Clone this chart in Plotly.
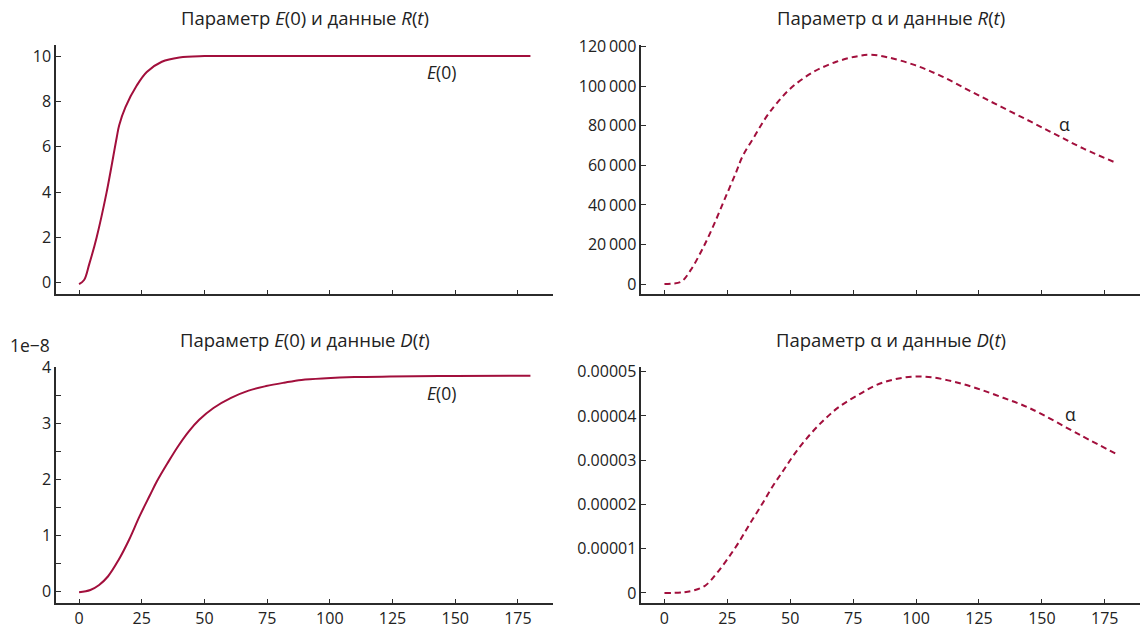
import plotly.graph_objects as go

# ---------------- data ----------------
t_e0_r = [0, 2, 4, 7, 11, 15, 16, 18.5, 23, 27, 33, 40, 50, 70, 100, 140, 180]
e0_r = [-0.06, 0.12, 0.8, 2.0, 4.0, 6.4, 6.95, 7.75, 8.7, 9.3, 9.75, 9.94, 10.0, 10.0, 10.0, 10.0, 10.0]

t_alpha_r = [0, 3, 6.7, 10.4, 14.9, 19.3, 23.8, 28.3, 31.2, 35.7, 40.1, 44.6, 50.5, 59.4, 68.3,
             75.8, 81.7, 89, 99.6, 110, 122, 133.7, 145.6, 156, 166.4, 180]
alpha_r = [0, 200, 1200, 7000, 17200, 29000, 42500, 56000, 65000, 74500, 83800, 91400, 99400,
           107400, 112400, 115000, 116000, 114600, 110700, 105200, 97300, 89700, 82100, 75300,
           68600, 61000]

t_e0_d = [0, 4.5, 8, 11.5, 15.7, 19.9, 24.1, 28.3, 31.1, 35.3, 39.5, 43.7, 47.9, 53.6, 60.6,
          67.6, 74.6, 81.7, 88.7, 98.6, 109.8, 123.9, 150, 180]
e0_d = [-0.01, 0.03, 0.12, 0.27, 0.56, 0.92, 1.34, 1.72, 1.97, 2.29, 2.59, 2.85, 3.06, 3.27,
        3.45, 3.58, 3.66, 3.72, 3.77, 3.80, 3.82, 3.83, 3.84, 3.845]

t_alpha_d = [0, 7.5, 11.9, 16.3, 20.7, 25.2, 29.6, 34, 38.5, 42.9, 47.4, 51.8, 57.7, 63.6, 69.5,
             76.9, 84.3, 91.7, 99.1, 106.5, 115.4, 124.3, 134.6, 145, 165.8, 180]
alpha_d = [0, 0.15e-6, 0.6e-6, 1.7e-6, 4.4e-6, 7.8e-6, 11.5e-6, 15.7e-6, 19.8e-6, 24e-6, 27.8e-6,
           31.5e-6, 35.7e-6, 39.2e-6, 42.1e-6, 44.7e-6, 47e-6, 48.3e-6, 48.9e-6, 48.7e-6, 47.7e-6,
           46.2e-6, 44.1e-6, 41.8e-6, 35.5e-6, 31.3e-6]

x_ticks = [0, 25, 50, 75, 100, 125, 150, 175]
x_tick_text = ["0", "25", "50", "75", "100", "125", "150", "175"]

y_ticks_e0_r = [0, 2, 4, 6, 8, 10]
y_ticks_alpha_r = [0, 20000, 40000, 60000, 80000, 100000, 120000]
y_text_alpha_r = ["0", "20\u2009000", "40\u2009000", "60\u2009000", "80\u2009000",
                  "100\u2009000", "120\u2009000"]
y_ticks_e0_d = [0, 0.5, 1, 1.5, 2, 2.5, 3, 3.5, 4]
y_text_e0_d = ["0", "", "1", "", "2", "", "3", "", "4"]
y_ticks_alpha_d = [0, 1e-5, 2e-5, 3e-5, 4e-5, 5e-5]
y_text_alpha_d = ["0", "0.00001", "0.00002", "0.00003", "0.00004", "0.00005"]

titles = ["Параметр <i>E</i>(0) и данные <i>R</i>(<i>t</i>)",
          "Параметр α и данные <i>R</i>(<i>t</i>)",
          "Параметр <i>E</i>(0) и данные <i>D</i>(<i>t</i>)",
          "Параметр α и данные <i>D</i>(<i>t</i>)"]

# ---------------- styling ----------------
W, H = 1146, 631
LINE = "#a20f3c"
AX = "#2b2b2b"
TXT = "#222222"
FONT = "Open Sans"
FS = 16
FS_TITLE = 18.5
FS_LABEL = 17.5

def px_x(p):
    return p / W

def px_y(p):
    return 1 - p / H

dom_x_left = [px_x(56), px_x(553)]
dom_x_right = [px_x(641.3), px_x(1140)]
dom_y_top = [px_y(294.3), px_y(45)]
dom_y_bot = [px_y(603.3), px_y(367)]

fig = go.Figure()
fig.add_trace(go.Scatter(x=t_e0_r, y=e0_r, mode="lines", line=dict(color=LINE, width=2, shape="spline"),
                         xaxis="x", yaxis="y", showlegend=False))
fig.add_trace(go.Scatter(x=t_alpha_r, y=alpha_r, mode="lines",
                         line=dict(color=LINE, width=2, shape="spline", dash="6px,4px"),
                         xaxis="x2", yaxis="y2", showlegend=False))
fig.add_trace(go.Scatter(x=t_e0_d, y=e0_d, mode="lines", line=dict(color=LINE, width=2, shape="spline"),
                         xaxis="x3", yaxis="y3", showlegend=False))
fig.add_trace(go.Scatter(x=t_alpha_d, y=alpha_d, mode="lines",
                         line=dict(color=LINE, width=2, shape="spline", dash="6px,4px"),
                         xaxis="x4", yaxis="y4", showlegend=False))

def xaxis(domain, anchor, labels):
    return dict(domain=domain, anchor=anchor, range=[-9.2, 189], showline=True, linecolor=AX,
                linewidth=1.5, ticks="inside", ticklen=5, tickwidth=1.3, tickcolor=AX,
                tickvals=x_ticks, ticktext=x_tick_text, showticklabels=labels, showgrid=False,
                zeroline=False, tickfont=dict(family=FONT, size=FS, color=TXT), automargin=False)

def yaxis(domain, anchor, rng, vals, text):
    return dict(domain=domain, anchor=anchor, range=rng, showline=True, linecolor=AX,
                linewidth=1.5, ticks="inside", ticklen=5, tickwidth=1.3, tickcolor=AX,
                tickvals=vals, ticktext=text, showgrid=False, zeroline=False,
                tickfont=dict(family=FONT, size=FS, color=TXT), automargin=False)

fig.update_layout(
    width=W, height=H, margin=dict(l=0, r=0, t=0, b=0),
    paper_bgcolor="white", plot_bgcolor="white",
    font=dict(family=FONT, size=FS, color=TXT),
    xaxis=xaxis(dom_x_left, "y", False),
    yaxis=yaxis(dom_y_top, "x", [-0.51, 10.49], y_ticks_e0_r, [str(v) for v in y_ticks_e0_r]),
    xaxis2=xaxis(dom_x_right, "y2", False),
    yaxis2=yaxis(dom_y_top, "x2", [-5200, 120900], y_ticks_alpha_r, y_text_alpha_r),
    xaxis3=xaxis(dom_x_left, "y3", True),
    yaxis3=yaxis(dom_y_bot, "x3", [-0.207, 4.0], y_ticks_e0_d, y_text_e0_d),
    xaxis4=xaxis(dom_x_right, "y4", True),
    yaxis4=yaxis(dom_y_bot, "x4", [-0.233e-5, 5.106e-5], y_ticks_alpha_d, y_text_alpha_d),
)

def note(text, cx, cy, size):
    return dict(text=text, x=px_x(cx), y=px_y(cy), xref="paper", yref="paper",
                xanchor="center", yanchor="middle", showarrow=False,
                font=dict(family=FONT, size=size, color=TXT))

ann = []
title_pos = [(304.5, 17.5), (890.7, 17.5), (304.5, 339), (890.7, 339)]
for txt, (cx, cy) in zip(titles, title_pos):
    ann.append(note(txt, cx, cy, FS_TITLE))
ann.append(note("<i>E</i>(0)", 441, 72, FS_LABEL))
ann.append(note("<i>E</i>(0)", 441, 393, FS_LABEL))
ann.append(note("α", 1064, 124, FS_LABEL))
ann.append(note("α", 1070, 414, FS_LABEL))
ann.append(note("1e\u22128", 30, 345, FS_LABEL))
fig.update_layout(annotations=ann)

fig.write_html("out.html", config={"displayModeBar": False},
               post_script="document.body.style.margin='0';document.body.style.overflow='hidden';")
